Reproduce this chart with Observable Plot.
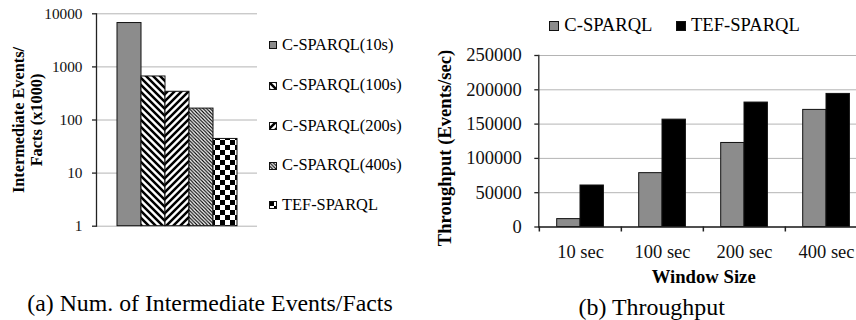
<!DOCTYPE html>
<html><head><meta charset="utf-8">
<script src="https://cdn.jsdelivr.net/npm/d3@7"></script>
<script src="https://cdn.jsdelivr.net/npm/@observablehq/plot@0.6"></script>
<style>
html,body{margin:0;padding:0;background:#fff;overflow:hidden;}
#wrap{position:relative;width:856px;height:320px;font-family:"Liberation Serif","Times New Roman",serif;color:#000;overflow:hidden;}
.abs{position:absolute;}
.lbl{position:absolute;transform:translate(-50%,-50%);white-space:nowrap;line-height:1;}
.rot{transform:translate(-50%,-50%) rotate(-90deg);text-align:center;}
.leg{position:absolute;display:flex;align-items:center;white-space:nowrap;line-height:1;}
.leg svg{display:block;margin-right:5px;}
</style></head><body>
<svg width="0" height="0" style="position:absolute">
<defs>
 <pattern id="pat100" patternUnits="userSpaceOnUse" width="7" height="7">
   <rect width="7" height="7" fill="#fff"/>
   <path d="M-1.75,5.25 L1.75,8.75 M0,0 L7,7 M5.25,-1.75 L8.75,1.75" stroke="#000" stroke-width="2.5"/>
 </pattern>
 <pattern id="pat200" patternUnits="userSpaceOnUse" width="7" height="7">
   <rect width="7" height="7" fill="#fff"/>
   <path d="M-1.75,1.75 L1.75,-1.75 M0,7 L7,0 M5.25,8.75 L8.75,5.25" stroke="#000" stroke-width="2.5"/>
 </pattern>
 <pattern id="pat400" patternUnits="userSpaceOnUse" width="3.5" height="3.5">
   <rect width="3.5" height="3.5" fill="#fff"/>
   <path d="M-1,2.5 L1,4.5 M0,0 L3.5,3.5 M2.5,-1 L4.5,1" stroke="#000" stroke-width="1.1"/>
 </pattern>
 <pattern id="patChk" patternUnits="userSpaceOnUse" width="10" height="10">
   <rect width="10" height="10" fill="#fff"/>
   <rect width="5" height="5" fill="#000"/>
   <rect x="5" y="5" width="5" height="5" fill="#000"/>
 </pattern>
</defs>
</svg>
<div id="wrap"></div>
<script>
// ---- Chart (a) data ----
const seriesA = ["C-SPARQL(10s)", "C-SPARQL(100s)", "C-SPARQL(200s)", "C-SPARQL(400s)", "TEF-SPARQL"];
const valuesA = [6700, 660, 340, 164, 44];
const yTicksA = [1, 10, 100, 1000, 10000];

// ---- Chart (b) data ----
const windowSizes = ["10 sec", "100 sec", "200 sec", "400 sec"];
const systemsB = ["C-SPARQL", "TEF-SPARQL"];
const cSparqlB = [11500, 78500, 122500, 170700];
const tefSparqlB = [60500, 156500, 181400, 194000];
const yTicksB = [0, 50000, 100000, 150000, 200000, 250000];

const fillsA = ["#8c8c8c", "url(#pat100)", "url(#pat200)", "url(#pat400)", "url(#patChk)"];
const fillsB = ["#8c8c8c", "#000000"];

const wrap = document.getElementById("wrap");

// ---------- Chart (a) ----------
const dataA = seriesA.map((s, i) => ({s, v: valuesA[i]}));
const plotA = Plot.plot({
  width: 260, height: 240,
  marginLeft: 96, marginRight: 3, marginTop: 13.3, marginBottom: 14.3,
  style: {fontFamily: "'Liberation Serif','Times New Roman',serif", fontSize: "15.3px", color: "#111", background: "transparent", overflow: "visible"},
  x: {domain: seriesA, axis: null, paddingInner: 0, paddingOuter: 0.745},
  y: {type: "log", domain: [1, 10000], label: null},
  color: {type: "ordinal", domain: seriesA, range: fillsA},
  marks: [
    Plot.gridY(yTicksA, {stroke: "#b4b4b4", strokeOpacity: 1, strokeWidth: 1}),
    Plot.barY(dataA, {x: "s", y1: 1, y2: "v", fill: "s", stroke: "#111", strokeWidth: 1}),
    Plot.frame({anchor: "left", stroke: "#222", strokeWidth: 1.3}),
    Plot.axisY(yTicksA, {tickSize: 4, tickPadding: 10, tickFormat: d => String(d), label: null, stroke: "#222", strokeWidth: 1.3})
  ]
});
plotA.style.position = "absolute"; plotA.style.left = "0px"; plotA.style.top = "0px";
wrap.appendChild(plotA);

// ---------- Chart (b) ----------
const dataB = [];
windowSizes.forEach((w, i) => {
  dataB.push({w, sys: systemsB[0], v: cSparqlB[i]});
  dataB.push({w, sys: systemsB[1], v: tefSparqlB[i]});
});
const plotB = Plot.plot({
  width: 438, height: 290,
  marginLeft: 108.3, marginRight: 0.5, marginTop: 55, marginBottom: 63.5,
  style: {fontFamily: "'Liberation Serif','Times New Roman',serif", fontSize: "18.5px", color: "#111", background: "transparent", overflow: "visible"},
  x: {domain: windowSizes, padding: 0, label: null},
  y: {domain: [0, 250000], label: null},
  color: {type: "ordinal", domain: systemsB, range: fillsB},
  marks: [
    Plot.gridY(yTicksB, {stroke: "#b4b4b4", strokeOpacity: 1, strokeWidth: 1}),
    Plot.barY(dataB.filter(d => d.sys === systemsB[0]), {x: "w", y: "v", fill: "sys", stroke: "#111", strokeWidth: 1, insetLeft: 17.7, insetRight: 40.9}),
    Plot.barY(dataB.filter(d => d.sys === systemsB[1]), {x: "w", y: "v", fill: "sys", stroke: "#111", strokeWidth: 1, insetLeft: 41.0, insetRight: 17.6}),
    Plot.frame({anchor: "left", stroke: "#222", strokeWidth: 1.3}),
    Plot.ruleY([0], {stroke: "#222", strokeWidth: 1.5}),
    Plot.axisY(yTicksB, {tickSize: 4, tickPadding: 13, tickFormat: d => String(d), label: null, stroke: "#222", strokeWidth: 1.3}),
    Plot.axisX({tickSize: 5, tickFormat: () => "", dx: -41.15, label: null, stroke: "#222", strokeWidth: 1.5}),
    Plot.axisX({tickSize: 0, tickPadding: 18, label: null})
  ]
});
plotB.style.position = "absolute"; plotB.style.left = "430px"; plotB.style.top = "0px";
wrap.appendChild(plotB);

// ---------- Text: labels, legends, captions ----------
function addLabel(html, x, y, css) {
  const d = document.createElement("div");
  d.className = "lbl" + (css.rot ? " rot" : "");
  d.innerHTML = html;
  d.style.left = x + "px"; d.style.top = y + "px";
  d.style.fontSize = css.size + "px";
  if (css.bold) d.style.fontWeight = "bold";
  if (css.lh) d.style.lineHeight = css.lh + "px";
  wrap.appendChild(d);
}
addLabel("Intermediate Events/<br>Facts (x1000)", 27.5, 120, {size: 16.3, bold: true, rot: true, lh: 18.4});
addLabel("Throughput (Events/sec)", 444.7, 148.3, {size: 18.6, bold: true, rot: true});
addLabel("Window Size", 703.7, 277, {size: 18.7, bold: true});
addLabel("(a) Num. of Intermediate Events/Facts", 210, 304, {size: 23.8});
addLabel("(b) Throughput", 651.7, 308, {size: 23.9});

function swatch(fill, size) {
  return `<svg width="${size}" height="${size}"><rect x="0.5" y="0.5" width="${size - 1}" height="${size - 1}" fill="${fill}" stroke="#111" stroke-width="1"/></svg>`;
}
// Legend (a): vertical list
const legYA = [45, 85.5, 126, 165.5, 205];
seriesA.forEach((s, i) => {
  const d = document.createElement("div");
  d.className = "leg";
  d.style.left = "269px"; d.style.top = (legYA[i] - 8.5) + "px";
  d.style.height = "17px"; d.style.fontSize = "16.4px";
  d.innerHTML = swatch(fillsA[i], 8) + `<span>${s}</span>`;
  wrap.appendChild(d);
});
// Legend (b): horizontal
const legXB = [549.3, 676];
systemsB.forEach((s, i) => {
  const d = document.createElement("div");
  d.className = "leg";
  d.style.left = legXB[i] + "px"; d.style.top = (25.5 - 10) + "px";
  d.style.height = "20px"; d.style.fontSize = "18.6px";
  d.innerHTML = swatch(fillsB[i], 10) + `<span>${s}</span>`;
  wrap.appendChild(d);
});
</script>
</body></html>
